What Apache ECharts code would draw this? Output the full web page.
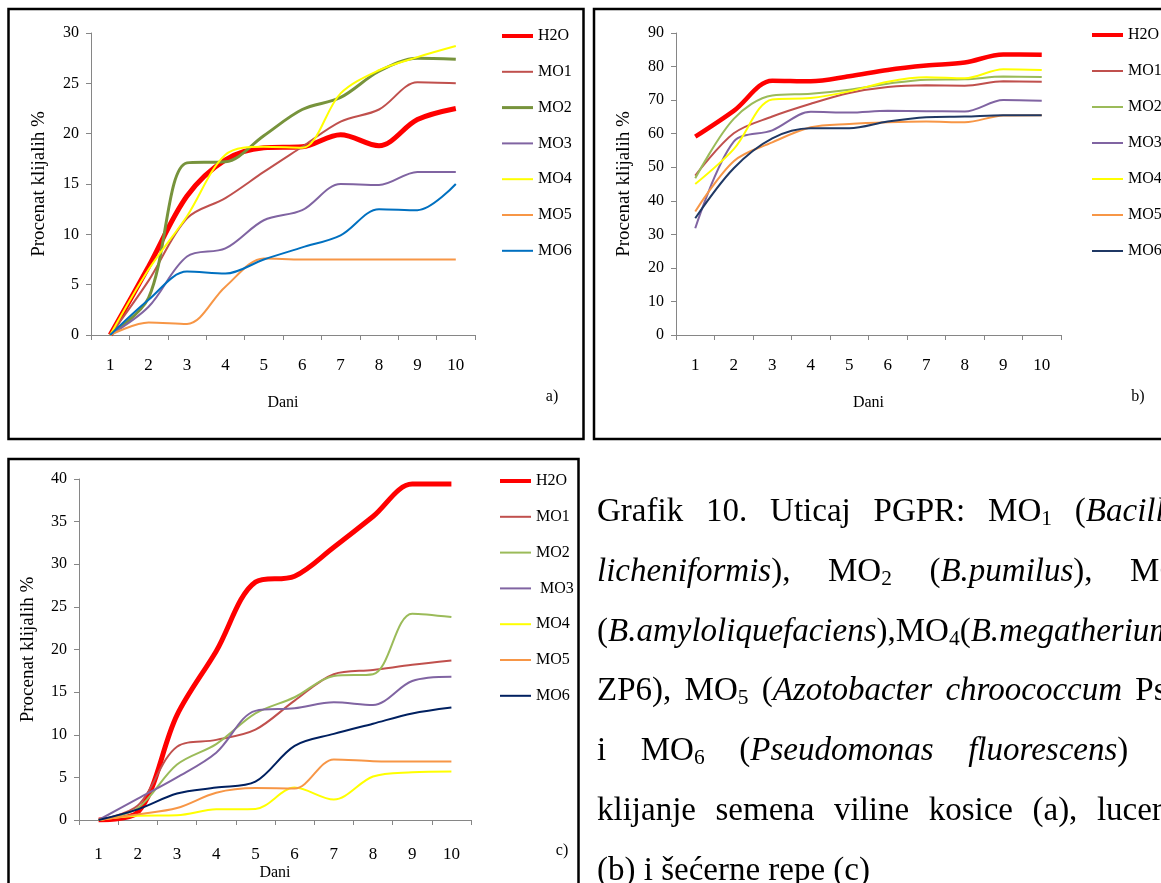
<!DOCTYPE html>
<html>
<head>
<meta charset="utf-8">
<script src="https://cdn.jsdelivr.net/npm/echarts@6/dist/echarts.min.js"></script>
<style>
  html, body { margin: 0; padding: 0; width: 1161px; height: 883px; overflow: hidden; background: #fff; }
  #chart { position: absolute; left: 0; top: 0; width: 1161px; height: 883px; }
  #caption {
    position: absolute; left: 597px; top: 481px; width: 597px;
    font-family: 'Liberation Serif', 'Times New Roman', serif;
    font-size: 33px; line-height: 59.8px; color: #000;
  }
  #caption .j { text-align: justify; text-align-last: justify; }
  #caption sub { font-size: 0.65em; vertical-align: -0.2em; line-height: 0; }
</style>
</head>
<body>
<div id="chart"></div>
<div id="caption">
  <div class="j">Grafik 10. Uticaj PGPR: MO<sub>1</sub> (<i>Bacillus</i></div>
  <div class="j"><i>licheniformis</i>), MO<sub>2</sub> (<i>B.pumilus</i>), MO<sub>3</sub></div>
  <div class="j">(<i>B.amyloliquefaciens</i>),MO<sub>4</sub>(<i>B.megatherium</i></div>
  <div class="j">ZP6), MO<sub>5</sub> (<i>Azotobacter chroococcum</i> Ps2)</div>
  <div class="j">i MO<sub>6</sub> (<i>Pseudomonas fluorescens</i>) na</div>
  <div class="j">klijanje semena viline kosice (a), lucerke</div>
  <div>(b) i šećerne repe (c)</div>
</div>
<script>
// Days of germination (x categories) and treatment names
const days = ['1', '2', '3', '4', '5', '6', '7', '8', '9', '10'];
const treatments = ['H2O', 'MO1', 'MO2', 'MO3', 'MO4', 'MO5', 'MO6'];

// (a) viline kosice – germination %
const aH2O = [0, 6.8, 13.8, 17.4, 18.6, 18.7, 19.9, 18.8, 21.4, 22.5];
const aMO1 = [0, 5.4, 11.6, 13.6, 16.2, 18.7, 21.2, 22.4, 25.1, 25.0];
const aMO2 = [0, 3.7, 17.1, 17.2, 19.8, 22.4, 23.6, 26.2, 27.5, 27.4];
const aMO3 = [0, 2.8, 7.8, 8.6, 11.4, 12.4, 15.0, 14.9, 16.2, 16.2];
const aMO4 = [0, 6.5, 11.8, 17.9, 18.7, 18.6, 24.0, 26.3, 27.6, 28.7];
const aMO5 = [0, 1.25, 1.1, 4.8, 7.6, 7.5, 7.5, 7.5, 7.5, 7.5];
const aMO6 = [0, 3.5, 6.3, 6.1, 7.5, 8.7, 9.9, 12.5, 12.4, 15.0];

// (b) lucerka – germination %
const bH2O = [59.1, 66.8, 75.8, 75.6, 77.1, 79.0, 80.3, 81.2, 83.6, 83.5];
const bMO1 = [47.5, 60.1, 65.1, 68.9, 72.1, 73.9, 74.4, 74.3, 75.6, 75.5];
const bMO2 = [46.7, 64.4, 71.4, 71.9, 73.1, 74.9, 76.1, 76.2, 77.0, 76.9];
const bMO3 = [31.8, 57.6, 61.0, 66.5, 66.3, 66.8, 66.7, 66.6, 70.0, 69.8];
const bMO4 = [45.0, 55.4, 70.2, 70.6, 72.6, 75.5, 76.8, 76.5, 79.2, 79.0];
const bMO5 = [36.8, 51.8, 57.4, 61.9, 62.9, 63.4, 63.6, 63.4, 65.4, 65.5];
const bMO6 = [34.8, 49.7, 58.6, 61.6, 61.6, 63.6, 64.9, 65.1, 65.5, 65.5];

// (c) šećerna repa – germination %
const cH2O = [0, 0.9, 12.3, 19.8, 27.9, 28.6, 32.0, 35.6, 39.4, 39.4];
const cMO1 = [0, 1.7, 8.6, 9.4, 10.6, 14.0, 17.1, 17.6, 18.2, 18.7];
const cMO2 = [0, 1.4, 6.5, 8.9, 12.5, 14.4, 16.9, 17.1, 24.2, 23.8];
const cMO3 = [0, 2.5, 5.0, 7.9, 12.8, 13.1, 13.8, 13.5, 16.3, 16.8];
const cMO4 = [0, 0.5, 0.55, 1.25, 1.3, 3.8, 2.4, 5.1, 5.6, 5.7];
const cMO5 = [0, 0.66, 1.4, 3.2, 3.75, 3.7, 7.1, 6.9, 6.85, 6.85];
const cMO6 = [0, 1.25, 3.1, 3.8, 4.5, 8.7, 10.1, 11.3, 12.5, 13.2];

// y-axis ranges per panel
const yRanges = [
  { max: 30, interval: 5 },
  { max: 90, interval: 10 },
  { max: 40, interval: 5 }
];

const SERIF = "'Liberation Serif', 'Times New Roman', serif";
const AXIS_GRAY = '#868686';

const panels = [
  {
    key: 'a',
    values: [aH2O, aMO1, aMO2, aMO3, aMO4, aMO5, aMO6],
    colors: ['#FF0000', '#C0504D', '#77933C', '#8064A2', '#FFFF00', '#F79646', '#0070C0'],
    widths: [5, 2, 3, 2, 2, 2, 2],
    grid: { left: 91, top: 33, width: 384, height: 302 },
    legend: { left: 500, top: 28, itemGap: 19.8 },
    yNameGap: 42, xNameGap: 60, xLabelMargin: 22,
    tag: { text: 'a)', x: 552, y: 397 }
  },
  {
    key: 'b',
    values: [bH2O, bMO1, bMO2, bMO3, bMO4, bMO5, bMO6],
    colors: ['#FF0000', '#C0504D', '#9BBB59', '#8064A2', '#FFFF00', '#F79646', '#1F3864'],
    widths: [4.5, 2, 2, 2, 2, 2, 2],
    grid: { left: 676, top: 33, width: 385, height: 302 },
    legend: { left: 1090, top: 27, itemGap: 20 },
    yNameGap: 42, xNameGap: 60, xLabelMargin: 22,
    tag: { text: 'b)', x: 1138, y: 397 }
  },
  {
    key: 'c',
    values: [cH2O, cMO1, cMO2, cMO3, cMO4, cMO5, cMO6],
    colors: ['#FF0000', '#C0504D', '#9BBB59', '#8064A2', '#FFFF00', '#F79646', '#002060'],
    widths: [5, 2, 2, 2, 2, 2, 2],
    grid: { left: 79, top: 479, width: 392, height: 341 },
    legend: { left: 498, top: 473, itemGap: 19.8 },
    yNameGap: 41, xNameGap: 45, xLabelMargin: 26,
    tag: { text: 'c)', x: 562, y: 851 }
  }
];

const grids = [], xAxes = [], yAxes = [], series = [], legends = [];

panels.forEach((p, i) => {
  grids.push(Object.assign({ containLabel: false }, p.grid));

  xAxes.push({
    type: 'category', gridIndex: i, data: days, boundaryGap: true,
    name: 'Dani', nameLocation: 'middle', nameGap: p.xNameGap,
    nameTextStyle: { fontFamily: SERIF, fontSize: 16, color: '#000' },
    axisLine: { lineStyle: { color: AXIS_GRAY, width: 1 } },
    axisTick: { show: true, length: 5, lineStyle: { color: AXIS_GRAY } },
    axisLabel: { margin: p.xLabelMargin, fontFamily: SERIF, fontSize: 17, color: '#000' },
    splitLine: { show: false }
  });

  yAxes.push({
    type: 'value', gridIndex: i, min: 0,
    max: yRanges[i].max, interval: yRanges[i].interval,
    name: 'Procenat klijalih %', nameLocation: 'middle', nameRotate: 90, nameGap: p.yNameGap,
    nameTextStyle: { fontFamily: SERIF, fontSize: 19, color: '#000' },
    axisLine: { show: true, lineStyle: { color: AXIS_GRAY, width: 1 } },
    axisTick: { show: true, length: 5, lineStyle: { color: AXIS_GRAY } },
    axisLabel: { margin: 12, fontFamily: SERIF, fontSize: 16, color: '#000' },
    splitLine: { show: false }
  });

  const names = treatments.map(t => p.key + '|' + t);
  treatments.forEach((t, j) => {
    series.push({
      type: 'line', name: names[j], xAxisIndex: i, yAxisIndex: i,
      data: p.values[j], smooth: 0.33, symbol: 'none',
      lineStyle: { color: p.colors[j], width: p.widths[j] },
      itemStyle: { color: p.colors[j] },
      z: 2
    });
  });

  legends.push({
    data: names.map((n, j) => ({
      name: n,
      itemStyle: { opacity: 0 },
      lineStyle: { width: Math.min(p.widths[j], 4), color: p.colors[j] }
    })),
    orient: 'vertical', padding: 0,
    left: p.legend.left, top: p.legend.top, itemGap: p.legend.itemGap,
    itemWidth: 31, itemHeight: 16, selectedMode: false,
    itemStyle: { opacity: 0 },
    formatter: n => {
      const label = n.split('|')[1];
      return (n === 'c|MO3') ? ' ' + label : label;
    },
    textStyle: { fontFamily: SERIF, fontSize: 16, color: '#000', lineHeight: 16 }
  });
});

// Panel frames and panel tags
const graphic = [
  { type: 'rect', shape: { x: 8.5, y: 9, width: 575, height: 430 },
    style: { fill: 'none', stroke: '#000', lineWidth: 2.5 }, silent: true },
  { type: 'rect', shape: { x: 594, y: 9, width: 600, height: 430 },
    style: { fill: 'none', stroke: '#000', lineWidth: 2.5 }, silent: true },
  { type: 'rect', shape: { x: 8.5, y: 459, width: 570, height: 450 },
    style: { fill: 'none', stroke: '#000', lineWidth: 2.5 }, silent: true }
];
panels.forEach(p => {
  graphic.push({
    type: 'text', x: p.tag.x, y: p.tag.y, silent: true,
    style: { text: p.tag.text, fontFamily: SERIF, fontSize: 16, fill: '#000',
             align: 'center', verticalAlign: 'middle' }
  });
});

const chart = echarts.init(document.getElementById('chart'), null, { renderer: 'canvas' });
chart.setOption({
  animation: false,
  backgroundColor: '#fff',
  grid: grids,
  xAxis: xAxes,
  yAxis: yAxes,
  legend: legends,
  series: series,
  graphic: graphic
});
</script>
</body>
</html>
